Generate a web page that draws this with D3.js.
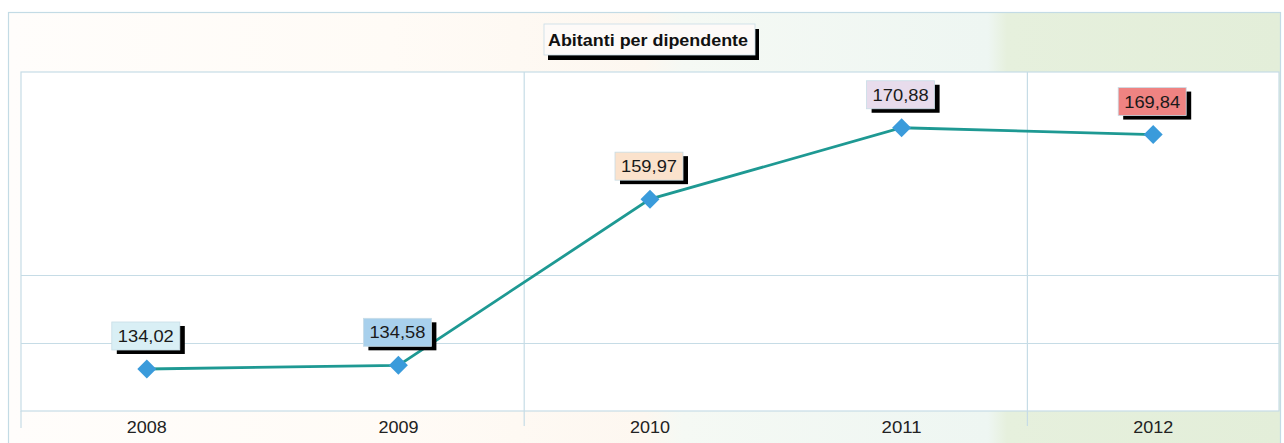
<!DOCTYPE html>
<html>
<head>
<meta charset="utf-8">
<script src="https://cdn.jsdelivr.net/npm/d3@7"></script>
<style>
  body { margin: 0; background: #ffffff; }
  svg { display: block; font-family: Arial, "Liberation Sans", sans-serif; }
</style>
</head>
<body>
<div id="display"></div>
<script>
// chart data
const years = ['2008', '2009', '2010', '2011', '2012'];
const values = [134.02, 134.58, 159.97, 170.88, 169.84];
const valueLabels = ['134,02', '134,58', '159,97', '170,88', '169,84'];
const labelColors = ['#d9eff5', '#a8d0ec', '#fbe2cc', '#e8dcec', '#ef8382'];
const yGridValues = [138.0, 148.4];
const title = 'Abitanti per dipendente';

const width = 1284;
const height = 443;
const plot = { left: 21, right: 1279, top: 72, bottom: 411 };

const svg = d3.select('#display').append('svg')
    .attr('width', width)
    .attr('height', height);

// background gradient of the outer panel
const defs = svg.append('defs');
const grad = defs.append('linearGradient').attr('id', 'bg').attr('x1', 0).attr('x2', 1).attr('y1', 0).attr('y2', 0);
[
    [0, '#fffdfb'], [0.3, '#fffbf6'], [0.5, '#fdf7f0'], [0.53, '#f5f9f4'],
    [0.77, '#eef6f2'], [0.785, '#e6f0dd'], [1, '#e3eed9']
].forEach(function (s) {
    grad.append('stop').attr('offset', s[0]).attr('stop-color', s[1]);
});

svg.append('rect')
    .attr('x', 8.5).attr('y', 12.5)
    .attr('width', 1272).attr('height', 440)
    .attr('fill', 'url(#bg)')
    .attr('stroke', '#c3dbe5')
    .attr('stroke-width', 1.2);

// plot area
svg.append('rect')
    .attr('x', plot.left).attr('y', plot.top)
    .attr('width', plot.right - plot.left).attr('height', plot.bottom - plot.top)
    .attr('fill', '#ffffff')
    .attr('stroke', '#c6dce6')
    .attr('stroke-width', 1.2);

const x = d3.scaleBand().domain(years).range([plot.left, plot.right]).padding(0);
const y = d3.scaleLinear().domain([127.6, 179.4]).range([plot.bottom, plot.top]);

// horizontal grid
svg.selectAll('line.hgrid')
    .data(yGridValues)
    .enter()
    .append('line')
    .attr('class', 'hgrid')
    .attr('x1', plot.left).attr('x2', plot.right)
    .attr('y1', function (d) { return Math.round(y(d)) + 0.5; })
    .attr('y2', function (d) { return Math.round(y(d)) + 0.5; })
    .attr('stroke', '#c6dce6')
    .attr('stroke-width', 1.2);

// vertical grid between every other pair of categories
const vBounds = [years[2], years[4]];
svg.selectAll('line.vgrid')
    .data(vBounds)
    .enter()
    .append('line')
    .attr('class', 'vgrid')
    .attr('x1', function (d) { return x(d); })
    .attr('x2', function (d) { return x(d); })
    .attr('y1', plot.top)
    .attr('y2', plot.bottom + 15)
    .attr('stroke', '#c6dce6')
    .attr('stroke-width', 1.2);

svg.append('line')
    .attr('x1', plot.left).attr('x2', plot.left)
    .attr('y1', plot.bottom).attr('y2', plot.bottom + 17)
    .attr('stroke', '#c6dce6')
    .attr('stroke-width', 1.2);

// x labels
svg.selectAll('text.xlab')
    .data(years)
    .enter()
    .append('text')
    .attr('class', 'xlab')
    .attr('x', function (d) { return x(d) + x.bandwidth() / 2; })
    .attr('y', 433)
    .attr('text-anchor', 'middle')
    .attr('font-size', 17)
    .attr('textLength', 40)
    .attr('lengthAdjust', 'spacingAndGlyphs')
    .attr('fill', '#222')
    .text(function (d) { return d; });

// line
const pts = years.map(function (yr, i) { return { year: yr, value: values[i], label: valueLabels[i], color: labelColors[i] }; });
const line = d3.line()
    .x(function (d) { return x(d.year) + x.bandwidth() / 2; })
    .y(function (d) { return y(d.value); });

svg.append('path')
    .datum(pts)
    .attr('d', line)
    .attr('fill', 'none')
    .attr('stroke', '#1e9993')
    .attr('stroke-width', 2.8);

// diamond markers
svg.selectAll('path.marker')
    .data(pts)
    .enter()
    .append('path')
    .attr('class', 'marker')
    .attr('d', d3.symbol().type(d3.symbolSquare).size(180))
    .attr('transform', function (d) { return 'translate(' + (x(d.year) + x.bandwidth() / 2) + ',' + y(d.value) + ') rotate(45)'; })
    .attr('fill', '#3a9bdb');

// value labels with shadow
const lab = svg.selectAll('g.vlab')
    .data(pts)
    .enter()
    .append('g')
    .attr('class', 'vlab')
    .attr('transform', function (d) { return 'translate(' + (x(d.year) + x.bandwidth() / 2) + ',' + (y(d.value) - 19) + ')'; });

lab.append('rect')
    .attr('x', -34 + 4).attr('y', -28 + 4)
    .attr('width', 68).attr('height', 28)
    .attr('fill', '#000');

lab.append('rect')
    .attr('x', -35).attr('y', -28)
    .attr('width', 68).attr('height', 28)
    .attr('fill', function (d) { return d.color; })
    .attr('stroke', '#c8dde6')
    .attr('stroke-width', 0.8);

lab.append('text')
    .attr('x', -1)
    .attr('y', -8)
    .attr('text-anchor', 'middle')
    .attr('font-size', 17)
    .attr('textLength', 56)
    .attr('lengthAdjust', 'spacingAndGlyphs')
    .attr('fill', '#1a1a1a')
    .text(function (d) { return d.label; });

// title box
const tg = svg.append('g').attr('transform', 'translate(544,24)');
tg.append('rect').attr('x', 4).attr('y', 5).attr('width', 211).attr('height', 31).attr('fill', '#000');
tg.append('rect').attr('x', 0).attr('y', 0).attr('width', 211).attr('height', 31)
    .attr('fill', '#fdfaf8').attr('stroke', '#c8dde6').attr('stroke-width', 0.8);
tg.append('text')
    .attr('x', 104).attr('y', 22)
    .attr('text-anchor', 'middle')
    .attr('font-size', 16)
    .attr('font-weight', 'bold')
    .attr('textLength', 200)
    .attr('lengthAdjust', 'spacingAndGlyphs')
    .attr('fill', '#111')
    .text(title);
</script>
</body>
</html>
